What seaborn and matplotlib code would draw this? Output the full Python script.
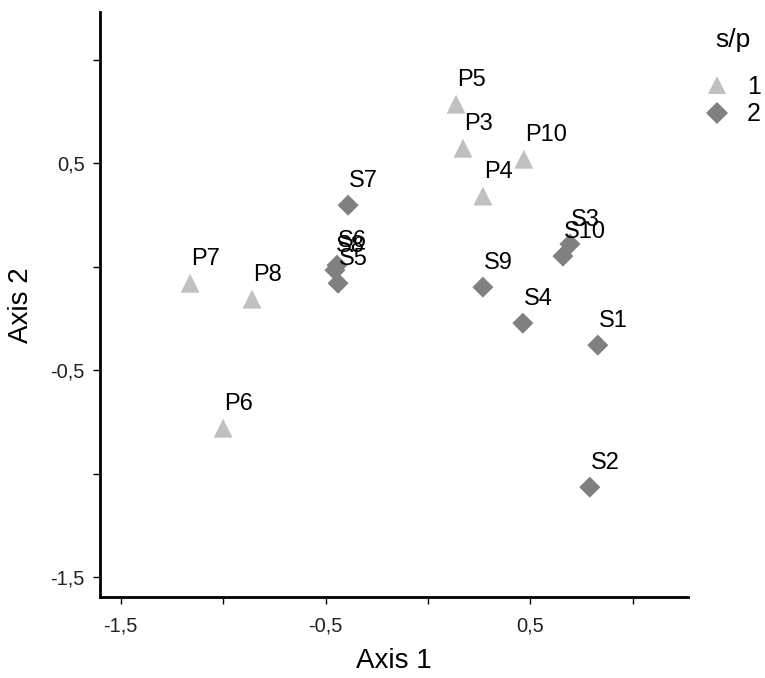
import matplotlib
matplotlib.use("Agg")
import matplotlib.pyplot as plt
import seaborn as sns
import pandas as pd

labels = ["P5", "P3", "P10", "P4", "P7", "P8", "P6",
          "S7", "S3", "S10", "S6", "S8", "S5", "S9", "S4", "S1", "S2"]
axis1 = [0.137, 0.171, 0.468, 0.268, -1.161, -0.859, -1.000,
         -0.390, 0.693, 0.659, -0.444, -0.454, -0.439, 0.268, 0.463, 0.829, 0.790]
axis2 = [0.785, 0.572, 0.519, 0.341, -0.080, -0.157, -0.780,
         0.297, 0.109, 0.051, 0.007, -0.017, -0.080, -0.099, -0.273, -0.379, -1.065]
group = [1, 1, 1, 1, 1, 1, 1,
         2, 2, 2, 2, 2, 2, 2, 2, 2, 2]

df = pd.DataFrame({"Axis 1": axis1, "Axis 2": axis2, "s/p": group, "label": labels})

sns.set_style("white")
plt.rcParams["font.family"] = ["Liberation Sans", "DejaVu Sans"]
plt.rcParams["text.color"] = "black"
plt.rcParams["axes.labelcolor"] = "black"

fig = plt.figure(figsize=(7.65, 6.78), dpi=100)
ax = fig.add_axes([0.131, 0.119, 0.768, 0.863])

palette = {1: "#c0c0c0", 2: "#808080"}
markers = {1: "^", 2: "D"}
sizes = {1: 185, 2: 115}
sns.scatterplot(data=df, x="Axis 1", y="Axis 2", hue="s/p", style="s/p",
                size="s/p", sizes=sizes,
                palette=palette, markers=markers, linewidth=0,
                ax=ax, legend=True)

for lx, ly, lab in zip(axis1, axis2, labels):
    ax.annotate(lab, (lx, ly), xytext=(1, 18), textcoords="offset pixels",
                fontsize=17, color="black")

ax.set_xlim(-1.6, 1.268)
ax.set_ylim(-1.597, 1.229)
ax.set_xticks([-1.5, -1.0, -0.5, 0.0, 0.5, 1.0])
ax.set_xticklabels(["-1,5", "", "-0,5", "", "0,5", ""])
ax.set_yticks([-1.5, -1.0, -0.5, 0.0, 0.5, 1.0])
ax.set_yticklabels(["-1,5", "", "-0,5", "", "0,5", ""])
ax.tick_params(axis="both", direction="out", length=5, width=1, labelsize=14.5,
               color="black", labelcolor="#222222", bottom=True, left=True)
ax.tick_params(axis="x", pad=9)
ax.tick_params(axis="y", pad=6)
for side in ["top", "right"]:
    ax.spines[side].set_visible(False)
for side in ["left", "bottom"]:
    ax.spines[side].set_linewidth(2)
    ax.spines[side].set_color("black")
ax.set_xlabel("Axis 1", fontsize=20, labelpad=9)
ax.set_ylabel("Axis 2", fontsize=20)
ax.yaxis.set_label_coords(-0.112, 0.5)

leg = ax.legend(title="s/p", loc="upper left", bbox_to_anchor=(0.921, 0.958),
                bbox_transform=fig.transFigure,
                frameon=False, fontsize=18, title_fontsize=19,
                handletextpad=0.7, handlelength=1.0, borderpad=0,
                borderaxespad=0, labelspacing=0.15, alignment="center")
leg._legend_box.sep = 16

fig.savefig("out.png", dpi=100)
